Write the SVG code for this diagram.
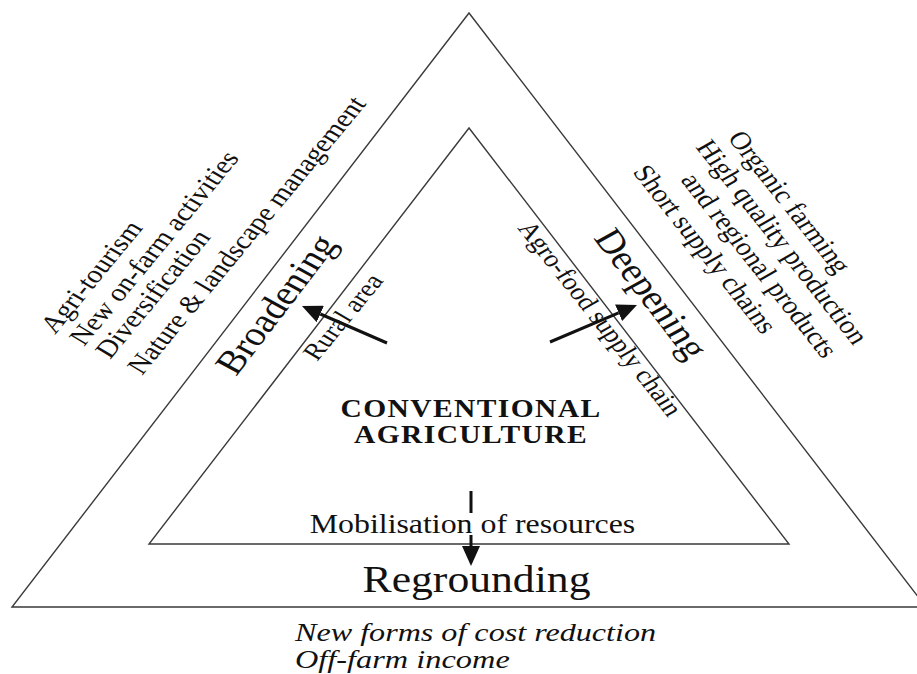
<svg xmlns="http://www.w3.org/2000/svg" width="917" height="674" viewBox="0 0 917 674">
  <style>
    .tri { fill: none; stroke: #3a3a3a; stroke-width: 1.4; stroke-linejoin: miter; }
    .t { font-family: "Liberation Serif", "Times New Roman", serif; fill: #111; }
    .it { font-style: italic; }
    .b { font-weight: bold; }
    .conn { fill: none; stroke: #111; stroke-width: 3; }
  </style>
  <defs>
    <marker id="ah" markerUnits="userSpaceOnUse" viewBox="0 0 20 18" refX="0" refY="9" markerWidth="20" markerHeight="18" orient="auto">
      <path d="M0,0 L20,9 L0,18 Z" fill="#111"/>
    </marker>
  </defs>
  <rect width="917" height="674" fill="#fff"/>

  <g id="outer-triangle">
    <polygon class="tri" points="469,13 12,607 926,607"/>
  </g>
  <g id="inner-triangle">
    <polygon class="tri" points="469,128 149,544 789,544"/>
  </g>

  <g id="node-conventional" class="t b" font-size="25" text-anchor="middle" letter-spacing="1.2">
    <text transform="translate(471,416.5) scale(1.18,1)">CONVENTIONAL</text>
    <text transform="translate(471,443.3) scale(1.18,1)">AGRICULTURE</text>
  </g>

  <g id="node-broadening" class="t">
    <text font-size="34" transform="translate(236,377) scale(1.18,1) rotate(-57)">Broadening</text>
    <text font-size="24" transform="translate(317,362) scale(1.18,1) rotate(-55)">Rural area</text>
  </g>

  <g id="list-broadening" class="t" font-size="25">
    <text transform="translate(55,335) scale(1.18,1) rotate(-55)">Agri-tourism</text>
    <text transform="translate(84,347) scale(1.18,1) rotate(-55)">New on-farm activities</text>
    <text transform="translate(110,360) scale(1.18,1) rotate(-55)">Diversification</text>
    <text transform="translate(142,376) scale(1.18,1) rotate(-55)">Nature &amp; landscape management</text>
  </g>

  <g id="node-deepening" class="t">
    <text font-size="34" transform="translate(593,238) scale(1.18,1) rotate(57)">Deepening</text>
    <text font-size="24" transform="translate(517,228) scale(1.18,1) rotate(56)">Agro-food supply chain</text>
  </g>

  <g id="list-deepening" class="t" font-size="25">
    <text transform="translate(727,138) scale(1.18,1) rotate(56)">Organic farming</text>
    <text transform="translate(695,147) scale(1.18,1) rotate(56)">High quality production</text>
    <text transform="translate(680,180) scale(1.18,1) rotate(56)">and regional products</text>
    <text transform="translate(632,172) scale(1.18,1) rotate(56)">Short supply chains</text>
  </g>

  <g id="node-regrounding" class="t" text-anchor="middle">
    <text font-size="27" transform="translate(472.5,533) scale(1.18,1)">Mobilisation of resources</text>
    <text font-size="37" transform="translate(476.5,592) scale(1.18,1)">Regrounding</text>
  </g>

  <g id="list-regrounding" class="t it" font-size="25">
    <text transform="translate(295,641) scale(1.18,1)" textLength="306" lengthAdjust="spacingAndGlyphs">New forms of cost reduction</text>
    <text transform="translate(295,668) scale(1.18,1)" textLength="182" lengthAdjust="spacingAndGlyphs">Off-farm income</text>
  </g>

  <g id="connectors">
    <line class="conn" x1="387" y1="343" x2="320.3" y2="314" marker-end="url(#ah)"/>
    <line class="conn" x1="550" y1="342" x2="618.6" y2="312.8" marker-end="url(#ah)"/>
    <path class="conn" d="M471,491 V513 M471,535 V546" marker-end="url(#ah)"/>
  </g>
</svg>
